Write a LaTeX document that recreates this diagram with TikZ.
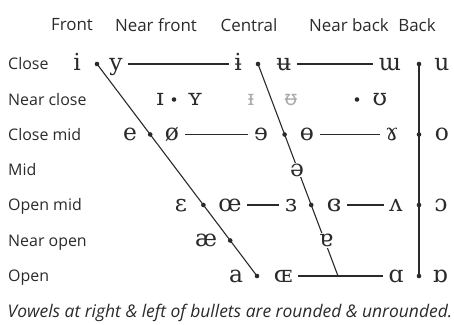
\documentclass[tikz,border=0pt]{standalone}
\usepackage{fontspec}
\setmainfont{Open Sans}
\newfontfamily\ipafont{DejaVu Serif}
\newfontfamily\ipasans{Noto Sans}
\usetikzlibrary{calc}
\definecolor{ink}{HTML}{2A2A2A}
\definecolor{lbl}{HTML}{2A2A2A}
\definecolor{ghost}{HTML}{ABABAB}
\tikzset{
  hdr/.style={text=lbl, font=\fontsize{17}{18}\selectfont, anchor=center, inner sep=0pt},
  rowlbl/.style={text=lbl, font=\fontsize{16}{18}\selectfont, anchor=west, inner sep=0pt, text height=11.5bp, text depth=0pt},
  vow/.style={text=ink, font=\ipafont\fontsize{23.5}{26}\selectfont, anchor=center, inner sep=1.5bp, text height=12.5bp, text depth=0pt},
  ghostvow/.style={vow, text=ghost},
  masked/.style={vow, fill=white, inner sep=1bp},
  dot/.style={circle, fill=ink, inner sep=0pt, minimum size=4.6bp},
  link/.style={draw=ink, line width=1.1bp},
  hlink/.style={link, shorten >=4bp, shorten <=4bp},
}
\begin{document}
\begin{tikzpicture}[x=1bp,y=-1bp]
\useasboundingbox (0,0) rectangle (454,324);
% headers
\node[hdr] (hF) at (72,25) {Front};
\node[hdr] (hNF) at (156,25) {Near front};
\node[hdr] (hC) at (249,25) {Central};
\node[hdr] (hNB) at (349,25) {Near back};
\node[hdr] (hB) at (417,25) {Back};
% row labels
\node[rowlbl] (rC) at (8,64) {Close};
\node[rowlbl] (rNC) at (8,99.5) {Near close};
\node[rowlbl] (rCM) at (8,134.5) {Close mid};
\node[rowlbl] (rM) at (8,170) {Mid};
\node[rowlbl] (rOM) at (8,205) {Open mid};
\node[rowlbl] (rNO) at (8,240.5) {Near open};
\node[rowlbl] (rO) at (8,276) {Open};
% main bullets on lines
\node[dot] (f1) at (97,64) {};
\node[dot] (f5) at (257,276) {};
\node[dot] (f2) at ($(f1)!0.3325!(f5)$) {};
\node[dot] (f3) at ($(f1)!0.6651!(f5)$) {};
\node[dot] (f4) at ($(f1)!0.8325!(f5)$) {};
\node[dot] (c1) at (258,64) {};
\coordinate (cend) at (338,276);
\node[dot] (c2) at ($(c1)!0.3325!(cend)$) {};
\node[dot] (c3) at ($(c1)!0.6651!(cend)$) {};
\node[dot] (k1) at (419,64) {};
\node[dot] (k2) at (419,134.5) {};
\node[dot] (k3) at (419,205) {};
\node[dot] (k5) at (419,276) {};
\node[dot] (nf) at (174,99.5) {};
\node[dot] (nb) at (357,99.5) {};
% slanted and vertical lines
\draw[link] (f1.center) -- (f5.center);
\draw[link] (c1.center) -- (cend);
\draw[link] (k1.center) -- (k5.center);
% vowels
\node[vow] (i) at (77,64) {i};
\node[vow] (y) at (116,64) {y};
\node[vow] (ibar) at (238,64) {ɨ};
\node[vow] (ubar) at (284,64) {ʉ};
\node[vow] (turnm) at (390,64) {ɯ};
\node[vow] (u) at (442,64) {u};
\node[vow] (smI) at (160,99.5) {ɪ};
\node[vow] (smY) at (195,99.5) {ʏ};
\node[ghostvow, font=\ipasans\fontsize{21}{24}\selectfont] (gI) at (251,99.5) {ᵻ};
\node[ghostvow, font=\ipasans\fontsize{21}{24}\selectfont] (gU) at (291,99.5) {ᵿ};
\node[vow] (ups) at (380,99.5) {ʊ};
\node[vow] (e) at (130,134.5) {e};
\node[vow] (oslash) at (172,134.5) {ø};
\node[vow] (reve) at (261,134.5) {ɘ};
\node[vow] (obar) at (307,134.5) {ɵ};
\node[vow] (ram) at (392,134.5) {ɤ};
\node[vow] (o) at (442,134.5) {o};
\node[masked] (schwa) at (297,170) {ə};
\node[vow] (eps) at (181,205) {ɛ};
\node[vow] (oe) at (230,205) {œ};
\node[vow] (reveps) at (291,205) {ɜ};
\node[vow] (closeeps) at (334,205) {ɞ};
\node[vow] (wedge) at (396,205) {ʌ};
\node[vow] (openo) at (441,205) {ɔ};
\node[vow] (ash) at (206,240.5) {æ};
\node[masked] (turna) at (326,240.5) {ɐ};
\node[vow] (a) at (236,276) {a};
\node[vow] (OE) at (283,276) {ɶ};
\node[vow] (alpha) at (396,276) {ɑ};
\node[vow] (turnalpha) at (440,276) {ɒ};
% horizontal links
\draw[hlink] (y.east) -- (ibar.west);
\draw[hlink] (ubar.east) -- (turnm.west);
\draw[hlink] (oslash.east) -- (reve.west);
\draw[hlink] (obar.east) -- (ram.west);
\draw[hlink] (oe.east) -- (reveps.west);
\draw[hlink] (closeeps.east) -- (wedge.west);
\draw[hlink] (OE.east) -- (alpha.west);
% caption
\node[text=lbl, font=\itshape\fontsize{17.5}{20}\selectfont, inner sep=0pt] (cap) at (230,313) {Vowels at right \& left of bullets are rounded \& unrounded.};
\end{tikzpicture}
\end{document}
